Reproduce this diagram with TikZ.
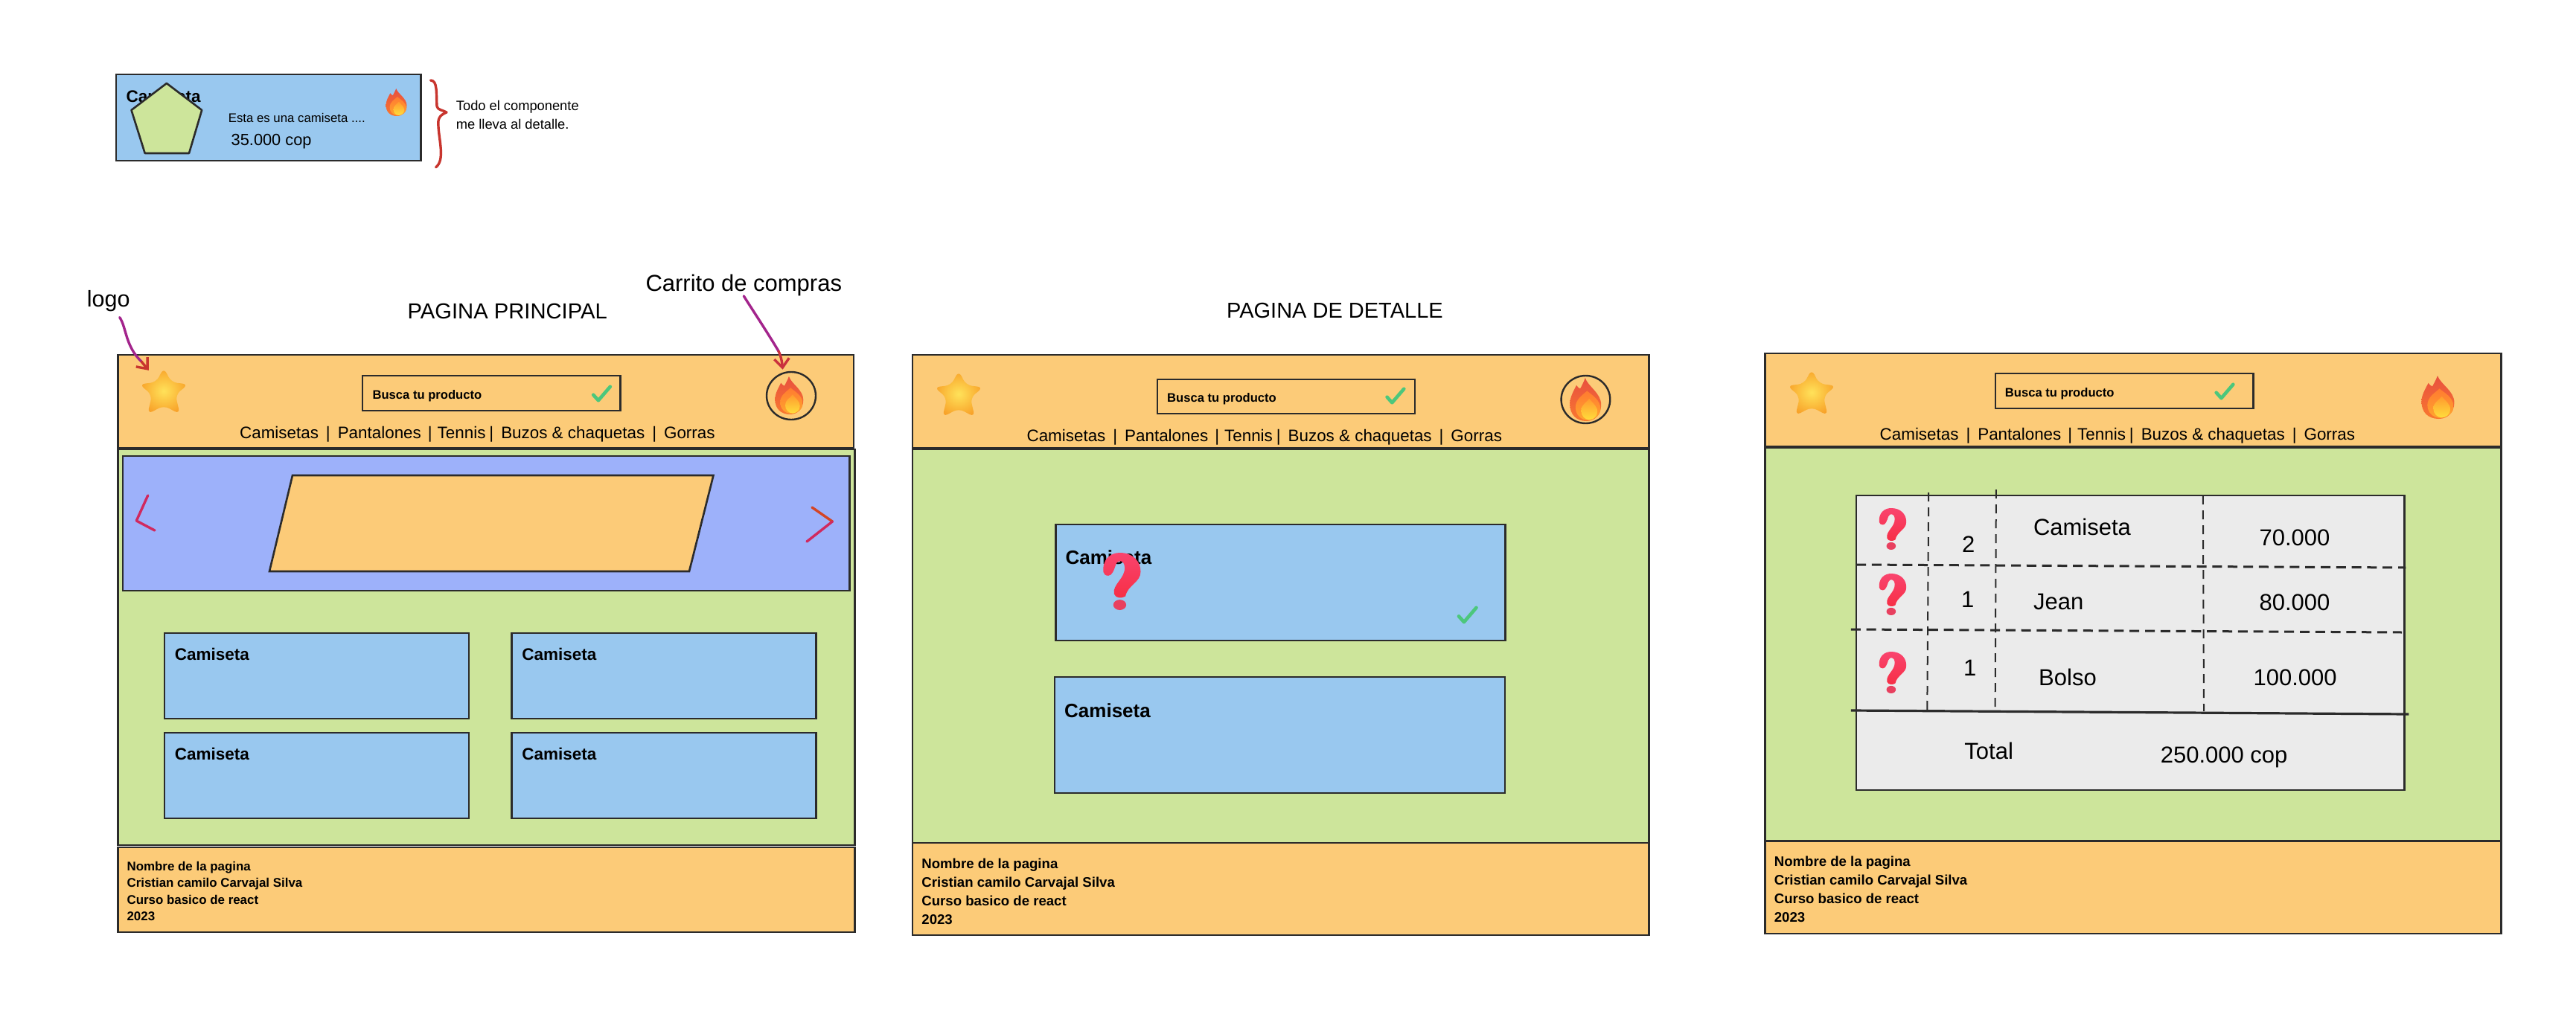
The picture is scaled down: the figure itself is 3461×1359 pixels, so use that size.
\documentclass[tikz,border=0pt]{standalone}
\usepackage{fontspec}
\setmainfont{Liberation Sans}
\usetikzlibrary{shapes.geometric,arrows.meta}
\definecolor{hdr}{HTML}{FCCB78}
\definecolor{bodyg}{HTML}{CDE59B}
\definecolor{cardb}{HTML}{99C8EF}
\definecolor{bann}{HTML}{9DB1FA}
\definecolor{tbl}{HTML}{EBEBEB}
\definecolor{ink}{HTML}{2B2B2B}
\definecolor{inkred}{HTML}{C8352E}
\definecolor{inkpink}{HTML}{D0295F}
\definecolor{inkpurple}{HTML}{A3248C}
\definecolor{chk}{HTML}{4CC77C}
\definecolor{starA}{HTML}{F8A229}
\definecolor{starB}{HTML}{FFE25A}
\definecolor{flameA}{HTML}{E8503F}
\definecolor{flameB}{HTML}{F9782F}
\definecolor{flameC}{HTML}{FF7B30}
\definecolor{flameD}{HTML}{FFA52F}
\definecolor{flameE}{HTML}{FF9A2E}
\definecolor{flameF}{HTML}{FFDD3C}
\definecolor{askA}{HTML}{F9446E}
\definecolor{askB}{HTML}{F72E45}
\definecolor{askC}{HTML}{E8405F}
\newcommand\fs[1]{\fontsize{#1}{#1}\selectfont}
\newcommand\fsl[2]{\fontsize{#1}{#2}\selectfont}
\newcommand\navtext{Camisetas\hspace{10pt}|\hspace{10pt}Pantalones\hspace{9pt}|\hspace{7pt}Tennis\hspace{5pt}|\hspace{10pt}Buzos \& chaquetas\hspace{10pt}|\hspace{10pt}Gorras}
\newcommand\foottext{Nombre de la pagina\\Cristian camilo Carvajal Silva\\Curso basico de react\\2023}
\tikzset{
  panel/.style={draw=ink,line width=2.6pt},
  lbl/.style={inner sep=0pt,anchor=base west,font=\fs{#1},yshift=-.33*#1 pt},
  lblb/.style={inner sep=0pt,anchor=base west,font=\fs{#1}\bfseries,yshift=-.33*#1 pt},
  footlbl/.style={inner sep=0pt,anchor=north west,align=left},
  scribble/.style={line width=3.4pt,line cap=round,line join=round},
  gridv/.style={draw=ink,line width=2pt,dash pattern=on 12pt off 8pt},
  gridh/.style={draw=ink,line width=3pt,dash pattern=on 13pt off 7.8pt},
  barb/.style={-{Straight Barb[length=12pt,width=20pt]}},
  starico/.pic={
    \shade[inner color=starB,outer color=starA,rounded corners=8pt]
      (.5,-.09) -- (.68,.28) -- (1.09,.33) -- (.78,.6) -- (.89,1.09) -- (.5,.87) -- (.11,1.09) -- (.22,.6) -- (-.09,.33) -- (.32,.28) -- cycle;
  },
  flameico/.pic={
    \shade[top color=flameA,bottom color=flameB]
      (.49,0) .. controls (.58,.2) and (1,.35) .. (1,.62) .. controls (1,.85) and (.8,1) .. (.53,1)
      .. controls (.2,1) and (0,.85) .. (0,.6) .. controls (0,.45) and (.12,.3) .. (.21,.17)
      .. controls (.24,.2) and (.28,.24) .. (.33,.25) .. controls (.38,.18) and (.44,.1) .. (.49,0) -- cycle;
    \shade[top color=flameC,bottom color=flameD]
      (.55,.3) .. controls (.7,.4) and (.98,.5) .. (.98,.72) .. controls (.98,.88) and (.75,.98) .. (.58,.98)
      .. controls (.35,.98) and (.18,.85) .. (.18,.68) .. controls (.18,.5) and (.4,.4) .. (.55,.3) -- cycle;
    \shade[top color=flameE,bottom color=flameF]
      (.62,.48) .. controls (.72,.58) and (.88,.65) .. (.88,.78) .. controls (.88,.9) and (.74,.97) .. (.62,.97)
      .. controls (.48,.97) and (.36,.88) .. (.36,.76) .. controls (.36,.62) and (.52,.58) .. (.62,.48) -- cycle;
  },
  checkico/.pic={
    \draw[chk,line width=4.6pt,line cap=round,line join=round] (.08,.58) -- (.33,.92) -- (.92,.08);
  },
  askico/.pic={
    \shade[top color=askA,bottom color=askB]
      (.02,.34) .. controls (-.02,.12) and (.2,0) .. (.45,0) .. controls (.8,0) and (1,.15) .. (1,.33)
      .. controls (1,.52) and (.66,.56) .. (.6,.76) .. controls (.5,.8) and (.35,.8) .. (.3,.72)
      .. controls (.25,.55) and (.6,.45) .. (.58,.25) .. controls (.56,.12) and (.4,.12) .. (.35,.2)
      .. controls (.3,.3) and (.25,.4) .. (.15,.4) .. controls (.08,.4) and (.03,.38) .. (.02,.34) -- cycle;
    \fill[askC] (.45,.91) ellipse [x radius=.17,y radius=.09];
  },
}
\begin{document}
\begin{tikzpicture}[x=1pt,y=-1pt]
\useasboundingbox (0,0) rectangle (3461,1359);
\fill[white] (0,0) rectangle (3461,1359);

% ---- component card
\draw[panel,fill=cardb] (156,100) rectangle (565.4,216);
\node[lblb=22.5] (cardTitle) at (169.4,130) {Camiseta};
\draw[panel,fill=bodyg,line join=round] (223.9,112) -- (271.2,148) -- (254,206) -- (194.7,206) -- (176.5,148) -- cycle;
\node[lbl=16.8] (cardDesc) at (306.6,159) {Esta es una camiseta ....};
\node[lbl=21.8] (cardPrice) at (310.5,188) {35.000 cop};
\pic[xscale=28,yscale=37] at (518.5,119) {flameico};
\draw[scribble,inkred] (578.5,108) .. controls (588,108) and (586,125) .. (587,143) .. controls (588,148) and (595,148) .. (600,151)
  .. controls (590,155) and (588,160) .. (589,170) .. controls (590,190) and (598,215) .. (585.5,225);
\node[lbl=18.3] (note1) at (612.7,142) {Todo el componente};
\node[lbl=18.3] (note2) at (612.7,167) {me lleva al detalle.};

% ---- page 1
\node[inner sep=0pt,font=\fs{29.2}] (title1) at (681.7,418) {PAGINA PRINCIPAL};
\node[lbl=30.5] (logoLbl) at (116.7,402) {logo};
\node[lbl=31] (cartLbl) at (867.3,381) {Carrito de compras};
\draw[panel,fill=hdr] (158.7,477) rectangle (1147,602);
\draw[panel,fill=bodyg] (158.7,604) rectangle (1148.6,1136);
\draw[panel,fill=hdr] (158.7,1139) rectangle (1148.6,1253);
\node[inner sep=0pt,minimum width=56pt,minimum height=53pt] (star1) at (220,525.5) {};
\pic[xscale=56,yscale=53] at (192,499) {starico};
\draw[panel,line width=2.4pt] (487,505) rectangle (833.6,552);
\node[lblb=16.6] (search1) at (500.4,531) {Busca tu producto};
\pic[xscale=27,yscale=22] at (795,518) {checkico};
\node[ellipse,draw=ink,line width=2.4pt,inner sep=0pt,minimum width=66pt,minimum height=64pt] (cart1) at (1063,532) {};
\pic[xscale=38,yscale=51] at (1041.3,506) {flameico};
\node[lbl=22.4] (nav1) at (322,582) {\navtext};
\draw[panel,fill=bann] (165,613) rectangle (1141.6,794);
\draw[panel,fill=hdr,line join=miter] (393,639) -- (958.5,639) -- (926,768) -- (362,768) -- cycle;
\draw[scribble,inkpink] (198.7,666) -- (183.3,700) -- (207.9,713);
\draw[scribble,inkred!80!orange] (1091,682) -- (1118.4,701);
\draw[scribble,inkpink] (1118.4,701) -- (1084,728);
\foreach \xa/\ya/\nm in {221/851/a,687.6/851/b,221/985/c,687.6/985/d}{
  \draw[panel,fill=cardb] (\xa,\ya) rectangle ++(409,115);
  \node[lblb=22.5] (prod\nm) at (\xa+13.6,\ya+29) {Camiseta};
}
\node[footlbl,font=\fsl{16.9}{22.4}\bfseries] (foot1) at (170.4,1158) {\foottext};

% connectors page 1
\coordinate (logoMid) at (190,486);
\draw[scribble,inkpurple] ([shift={(15,8)}]logoLbl.south) .. controls (170,440) and (168,465) .. (logoMid);
\draw[scribble,inkred,barb] (logoMid) -- ([shift={(8,-1)}]star1.north west);
\coordinate (cartMid) at (1046,472);
\draw[scribble,inkpurple] (cartLbl.south) .. controls (1008,412) and (1030,445) .. (cartMid);
\draw[scribble,inkred!70!inkpink,barb] (cartMid) .. controls (1050,480) and (1051,490) .. ([shift={(0,-4)}]cart1.110);

% ---- page 2
\node[inner sep=0pt,font=\fs{29}] (title2) at (1793.4,418) {PAGINA DE DETALLE};
\draw[panel,fill=hdr] (1226,477) rectangle (2215.3,602);
\draw[panel,fill=bodyg] (1226,604) rectangle (2215.3,1133);
\draw[panel,fill=hdr] (1226,1133) rectangle (2215.3,1257);
\pic[xscale=56,yscale=53] at (1260,503) {starico};
\draw[panel,line width=2.4pt] (1555,510) rectangle (1901,556);
\node[lblb=16.6] (search2) at (1568,535) {Busca tu producto};
\pic[xscale=27,yscale=22] at (1861.4,521) {checkico};
\node[ellipse,draw=ink,line width=2.4pt,inner sep=0pt,minimum width=65.7pt,minimum height=64pt] (cart2) at (2130.4,537) {};
\pic[xscale=42,yscale=58] at (2109.2,508) {flameico};
\node[lbl=22.4] (nav2) at (1379.4,586) {\navtext};
\draw[panel,fill=cardb] (1418.4,705) rectangle (2022.7,861);
\node[lblb=26] (det1) at (1431.4,750) {Camiseta};
\pic[xscale=51,yscale=77] at (1481.5,743) {askico};
\pic[xscale=28,yscale=23] at (1957.7,815) {checkico};
\draw[panel,fill=cardb] (1417,910) rectangle (2022,1066);
\node[lblb=26] (det2) at (1430,956) {Camiseta};
\node[footlbl,font=\fsl{18.6}{25}\bfseries] (foot2) at (1238.2,1154) {\foottext};

% ---- page 3
\draw[panel,fill=hdr] (2371.2,475) rectangle (3360.4,600);
\draw[panel,fill=bodyg] (2371.2,602) rectangle (3360.4,1130);
\draw[panel,fill=hdr] (2371.2,1131) rectangle (3360.4,1255);
\pic[xscale=56,yscale=53] at (2406,501) {starico};
\draw[panel,line width=2.4pt] (2681.2,502) rectangle (3027.4,549);
\node[lblb=16.6] (search3) at (2693.7,528) {Busca tu producto};
\pic[xscale=27,yscale=22] at (2975.5,515) {checkico};
\pic[xscale=44,yscale=58] at (3253.4,505) {flameico};
\node[lbl=22.4] (nav3) at (2525.5,584) {\navtext};
\draw[panel,fill=tbl] (2494,666) rectangle (3230.4,1062);
\draw[gridv] (2591.2,662) -- (2589.3,956);
\draw[gridv] (2681.9,658) -- (2680.6,956);
\draw[gridv] (2959.8,666) -- (2961,956);
\draw[gridh] (2494,759) -- (3232.4,763);
\draw[gridh] (2486.8,846) -- (3227,850);
\draw[draw=ink,line width=3.2pt] (2486.8,955) -- (3236.3,960);
\pic[xscale=37,yscale=56] at (2524.2,683) {askico};
\pic[xscale=37,yscale=56] at (2524.2,771) {askico};
\pic[xscale=37,yscale=56] at (2524.2,876) {askico};
\foreach \nm/\xa/\ya/\tx in {q1/2636/732/2,q2/2635/806/1,q3/2638/898/1,n1/2731.8/709/Camiseta,n2/2731.8/809/Jean,n3/2739/911/Bolso,p1/3035.3/723/70.000,p2/3035.3/810/80.000,p3/3027.4/911/100.000,t1/2639.2/1010/Total,t2/2902.6/1015/250.000 cop}{
  \node[lbl=31] (\nm) at (\xa,\ya) {\tx};
}
\node[footlbl,font=\fsl{18.6}{25}\bfseries] (foot3) at (2383.6,1151) {\foottext};
\end{tikzpicture}
\end{document}
